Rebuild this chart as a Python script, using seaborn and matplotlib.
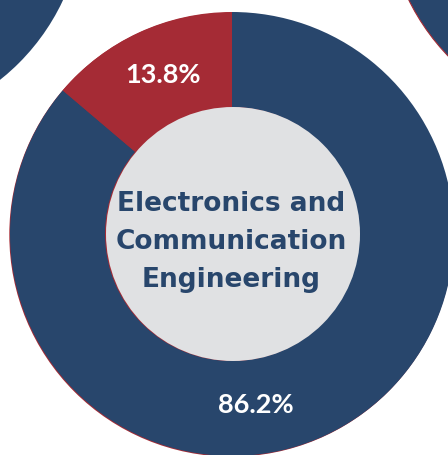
import matplotlib
matplotlib.use("Agg")
import matplotlib.pyplot as plt
import matplotlib.patches as mpatches
import numpy as np
import seaborn as sns

# Share of graduates by outcome for the programme
segments = ["Outcome A", "Outcome B"]
shares = [86.2, 13.8]
title_lines = ["Electronics and", "Communication", "Engineering"]

sns.set_theme(style="white")
plt.rcParams["font.family"] = ["Lato", "DejaVu Sans"]

NAVY = "#28466C"
CRIMSON = "#A52B35"
HOLE = "#E0E1E3"
palette = sns.color_palette([NAVY, CRIMSON])

W, H = 448, 455
fig = plt.figure(figsize=(W / 100, H / 100), dpi=100)
ax = fig.add_axes([0, 0, 1, 1])

# layout in pixel units (y measured from the top of the canvas)
cx, cy = 232, H - 234
R_OUT, R_IN = 222, 127

# neighbouring rings peeking in at the corners
ax.add_patch(mpatches.Wedge((-138, H + 94), R_OUT, 0, 360, width=R_OUT - R_IN,
                            facecolor=NAVY, edgecolor="none"))
ax.add_patch(mpatches.Wedge((608, H + 98), R_OUT, 0, 360, width=R_OUT - R_IN,
                            facecolor=NAVY, edgecolor=CRIMSON, linewidth=0.8))

# faint crimson rim that shows along the lower-left edge
ax.add_patch(mpatches.Circle((cx - 0.7, cy - 0.7), R_OUT, facecolor=CRIMSON,
                             edgecolor="none"))

wedges, _ = ax.pie(shares, colors=palette, startangle=90, counterclock=False,
                   center=(cx, cy), radius=R_OUT,
                   wedgeprops=dict(width=R_OUT - R_IN, edgecolor="none"),
                   frame=True)

ax.add_patch(mpatches.Circle((cx + 1, cy), R_IN, facecolor=HOLE, edgecolor="none",
                             zorder=3))

# percentage labels on the ring
label_angles = [-82.0, 113.5]
label_radius = 173
for val, ang in zip(shares, label_angles):
    a = np.deg2rad(ang)
    ax.text(cx + label_radius * np.cos(a), cy + label_radius * np.sin(a),
            f"{val:.1f}%", color="white", fontsize=19.5, fontweight="bold",
            ha="center", va="center", zorder=4)

ax.text(cx - 1, H - 242, "\n".join(title_lines), color=NAVY, fontsize=19,
        family=["DejaVu Sans"], fontweight="bold", ha="center", va="center",
        linespacing=1.58, zorder=4)

ax.set_xlim(0, W)
ax.set_ylim(0, H)
ax.set_aspect("equal")
ax.axis("off")
fig.savefig("out.png", dpi=100, facecolor="white")
